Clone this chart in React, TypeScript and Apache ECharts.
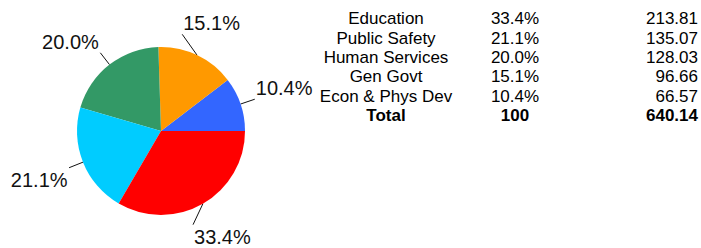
import React, { useEffect, useRef } from "react";
import * as echarts from "echarts";

const categories = ["Education", "Public Safety", "Human Services", "Gen Govt", "Econ & Phys Dev"];
const percents = ["33.4%", "21.1%", "20.0%", "15.1%", "10.4%"];
const values = [213.81, 135.07, 128.03, 96.66, 66.57];
const totalRow = ["Total", "100", "640.14"];
const colors = ["#FF0000", "#00CCFF", "#339966", "#FF9900", "#3366FF"];
// angular nudges (degrees) of the label leaders, in the same order as categories
const leaderTilt = [-11, 0, 0, 13, 0];

export default function App() {
  const ref = useRef<HTMLDivElement>(null);
  useEffect(() => {
    if (!ref.current) return;
    const chart = echarts.init(ref.current, null, { renderer: "svg" });
    const cx = 161;
    const cy = 131;
    const R = 84;
    const leaderEnd = 99;
    const font = "'Liberation Sans', Arial, sans-serif";
    // pie data: counterclockwise from 3 o'clock, smallest first
    const order = [4, 3, 2, 1, 0];
    const pieData = order.map((i) => ({
      name: categories[i],
      value: values[i],
      pct: percents[i],
      tilt: leaderTilt[i],
      itemStyle: { color: colors[i] },
    }));

    const rowY0 = 18.7;
    const rowStep = 19.35;
    const tableTexts: any[] = [];
    const rows = categories.map((c, i) => [c, percents[i], values[i].toFixed(2)]);
    rows.push(totalRow);
    rows.forEach((r, i) => {
      const bold = i === rows.length - 1;
      const y = rowY0 + i * rowStep;
      const base = { fontSize: 17, fontFamily: font, fill: "#000", fontWeight: bold ? "bold" : "normal", verticalAlign: "middle" };
      tableTexts.push({ type: "text", x: 386, y, style: { ...base, text: r[0], align: "center" } });
      tableTexts.push({ type: "text", x: 515, y, style: { ...base, text: r[1], align: "center" } });
      tableTexts.push({ type: "text", x: 698, y, style: { ...base, text: r[2], align: "right" } });
    });

    chart.setOption({
      animation: false,
      backgroundColor: "#fff",
      series: [
        {
          type: "pie",
          center: [cx, cy],
          radius: [0, R],
          startAngle: 0,
          clockwise: false,
          data: pieData,
          itemStyle: { borderWidth: 0 },
          label: {
            show: true,
            position: "outside",
            bleedMargin: 0,
            overflow: "none",
            formatter: (p: any) => p.data.pct,
            fontSize: 20,
            fontFamily: font,
            color: "#111",
          },
          labelLine: {
            show: true,
            length: 15,
            length2: 0,
            lineStyle: { color: "#111", width: 1 },
          },
          labelLayout: (params: any) => {
            const pts = params.labelLinePoints;
            if (!pts) return {};
            const start = pts[0];
            const item = pieData[params.dataIndex];
            const a = Math.atan2(-(start[1] - cy), start[0] - cx) + ((item.tilt || 0) * Math.PI) / 180;
            const ex = cx + leaderEnd * Math.cos(a);
            const ey = cy - leaderEnd * Math.sin(a);
            const right = ex >= cx;
            const upper = ey <= cy;
            return {
              x: ex + (right ? 1 : -1.5),
              y: upper ? ey - 11 : ey + 12,
              align: right ? "left" : "right",
              verticalAlign: "middle",
              labelLinePoints: [
                [start[0], start[1]],
                [ex, ey],
                [ex, ey],
              ],
            };
          },
          emphasis: { disabled: true },
        },
      ],
      graphic: tableTexts,
    });
    return () => chart.dispose();
  }, []);
  return <div ref={ref} style={{ position: "absolute", left: 0, top: 0, width: 701, height: 248 }} />;
}
